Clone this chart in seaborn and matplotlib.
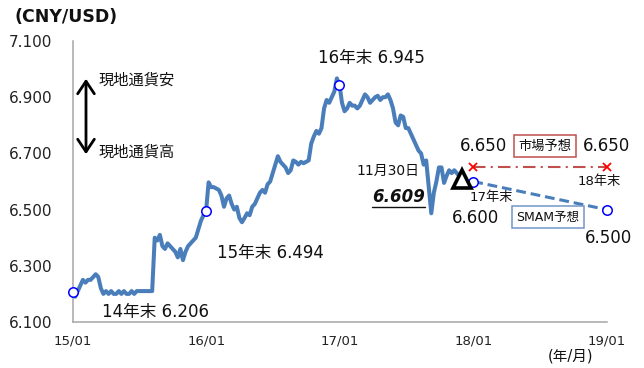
import numpy as np
import pandas as pd
import matplotlib
matplotlib.use("Agg")
import matplotlib.pyplot as plt
import matplotlib.dates as mdates
from matplotlib.lines import Line2D
from matplotlib.transforms import IdentityTransform
import seaborn as sns

# Weekly USD/CNY fixings, one list per calendar year
rate_2015 = [6.206, 6.19, 6.21, 6.23, 6.25, 6.24, 6.25, 6.25, 6.26, 6.27,
             6.26, 6.22, 6.20, 6.21, 6.20, 6.21, 6.20, 6.20, 6.21, 6.20,
             6.21, 6.20, 6.20, 6.21, 6.20, 6.21, 6.21, 6.21, 6.21, 6.21,
             6.21, 6.21, 6.40, 6.39, 6.41, 6.37, 6.36, 6.38, 6.37, 6.36,
             6.35, 6.33, 6.36, 6.32, 6.35, 6.37, 6.38, 6.39, 6.40, 6.43,
             6.46, 6.48, 6.494]
rate_2016 = [6.597, 6.58, 6.58, 6.575, 6.57, 6.55, 6.51, 6.54, 6.55, 6.52,
             6.50, 6.51, 6.47, 6.455, 6.47, 6.487, 6.48, 6.51, 6.52, 6.54,
             6.56, 6.57, 6.56, 6.59, 6.60, 6.63, 6.66, 6.69, 6.67, 6.66,
             6.65, 6.63, 6.64, 6.675, 6.67, 6.66, 6.67, 6.665, 6.67, 6.675,
             6.735, 6.76, 6.78, 6.77, 6.79, 6.86, 6.89, 6.88, 6.90, 6.92,
             6.967, 6.945]
rate_2017 = [6.88, 6.85, 6.86, 6.88, 6.87, 6.87, 6.86, 6.87, 6.89, 6.91,
             6.90, 6.88, 6.89, 6.90, 6.905, 6.89, 6.90, 6.90, 6.91, 6.89,
             6.86, 6.81, 6.80, 6.835, 6.83, 6.79, 6.79, 6.77, 6.75, 6.73,
             6.71, 6.70, 6.66, 6.675, 6.58, 6.487, 6.56, 6.60, 6.65, 6.65,
             6.595, 6.62, 6.64, 6.63, 6.64, 6.63, 6.62, 6.609]
span_2015 = ("2014-12-31", "2015-12-31")
span_2016 = ("2016-01-07", "2016-12-30")
span_2017 = ("2017-01-06", "2017-11-30")

# Year-end markers, latest fixing and forecasts
yearend_dates = ["2014-12-31", "2015-12-31", "2016-12-30"]
yearend_values = [6.206, 6.494, 6.945]
latest_date = "2017-11-30"
latest_value = 6.609
forecast_dates = ["2017-12-31", "2018-12-31"]
smam_values = [6.600, 6.500]
market_values = [6.650, 6.650]

tick_dates = ["2015-01-01", "2016-01-01", "2017-01-01", "2018-01-01", "2019-01-01"]
y_ticks = [6.1, 6.3, 6.5, 6.7, 6.9, 7.1]


def weekly_dates(span, n):
    t0, t1 = pd.Timestamp(span[0]).value, pd.Timestamp(span[1]).value
    return pd.to_datetime(np.linspace(t0, t1, n).astype("int64"))


series = pd.DataFrame({
    "date": np.concatenate([weekly_dates(span_2015, len(rate_2015)),
                            weekly_dates(span_2016, len(rate_2016)),
                            weekly_dates(span_2017, len(rate_2017))]),
    "rate": rate_2015 + rate_2016 + rate_2017,
})

sns.set_style("white")
plt.rcParams["font.family"] = ["DejaVu Sans", "Noto Sans CJK JP"]

W, H = 644, 368
fig = plt.figure(figsize=(W / 100, H / 100), dpi=100)
ax = fig.add_axes([73 / W, 1 - 322 / H, (607 - 73) / W, (322 - 41) / H])

LINE = "#4A7EBB"
RED = "#C0504D"
GREY = "#A6A6A6"

sns.lineplot(data=series, x="date", y="rate", ax=ax, color=LINE, lw=2.9,
             zorder=3)

fc_dates = pd.to_datetime(forecast_dates)
sns.lineplot(x=fc_dates, y=smam_values, ax=ax, color=LINE, lw=2.2,
             dashes=False, linestyle=(0, (3.2, 1.6)), zorder=3)
sns.lineplot(x=fc_dates, y=market_values, ax=ax, color=RED, lw=1.5,
             linestyle=(0, (6, 2.5, 1, 2.5)), zorder=3)
ax.plot(fc_dates, market_values, ls="none", marker="x", ms=6, mew=1.3,
        color="#FF0000", zorder=5, clip_on=False)

circ = dict(ls="none", marker="o", ms=6.8, mfc="white", mec="#0000FF",
            mew=1.1, zorder=6, clip_on=False)
ax.plot(pd.to_datetime(yearend_dates), yearend_values, **circ)
ax.plot(fc_dates, smam_values, **circ)
ax.plot([pd.Timestamp(latest_date)], [latest_value], ls="none", marker="^",
        ms=13, mfc="white", mec="black", mew=2.6, zorder=7, clip_on=False)

ax.set_xlim(pd.Timestamp(tick_dates[0]), pd.Timestamp(tick_dates[-1]))
ax.set_ylim(y_ticks[0], y_ticks[-1])
ax.set_xticks(pd.to_datetime(tick_dates))
ax.xaxis.set_major_formatter(mdates.DateFormatter("%y/%m"))
ax.set_yticks(y_ticks)
ax.set_yticklabels([f"{v:.3f}" for v in y_ticks])
ax.set_xlabel("")
ax.set_ylabel("")
for side in ("top", "right"):
    ax.spines[side].set_visible(False)
for side in ("left", "bottom"):
    ax.spines[side].set_color(GREY)
    ax.spines[side].set_linewidth(1.1)
ax.tick_params(axis="y", direction="in", length=4, width=1, color=GREY,
               labelsize=11, pad=15, labelcolor="#222222")
ax.tick_params(axis="x", direction="in", length=4, width=1, color=GREY,
               labelsize=9.5, pad=9, labelcolor="#222222")


def fx(x, y):
    return (x / W, 1 - y / H)


def label(x, y, s, ha="left", size=12, **kw):
    return fig.text(*fx(x, y), s, ha=ha, va="center", fontsize=size,
                    color="#111111", **kw)


label(15, 17, "(CNY/USD)", size=12.5, weight="bold")
label(102, 312, "14年末 6.206")
label(217, 253, "15年末 6.494")
label(318, 58, "16年末 6.945")
label(419, 171, "11月30日", ha="right", size=10)
t609 = label(425, 197, "6.609", ha="right", size=12, weight="bold",
             style="italic")
label(460, 146, "6.650")
label(583, 146, "6.650")
label(578, 181, "18年末", size=9.5)
label(470, 197, "17年末", size=9.5)
label(452, 218, "6.600")
label(585, 238, "6.500")
label(99, 80, "現地通貨安", size=11)
label(99, 152, "現地通貨高", size=11)
label(548, 356, "(年/月)", size=10.5)

label(545, 146, "市場予想", ha="center", size=9.5,
      bbox=dict(boxstyle="square,pad=0.35", fc="white", ec=RED, lw=1.1))
label(548, 217, "SMAM予想", ha="center", size=9,
      bbox=dict(boxstyle="square,pad=0.35", fc="white", ec="#7396C8", lw=1.1))

fig.patches.append(matplotlib.patches.FancyArrowPatch(
    fx(86, 76), fx(86, 157), transform=fig.transFigure,
    arrowstyle="<->,head_width=4,head_length=6", lw=2, color="black",
    mutation_scale=1.5))

fig.canvas.draw()
bb = t609.get_window_extent()
fig.add_artist(Line2D([bb.x0, bb.x1], [bb.y0 - 1, bb.y0 - 1], lw=1,
                      color="#111111", transform=IdentityTransform()))

fig.savefig("out.png", dpi=100)
